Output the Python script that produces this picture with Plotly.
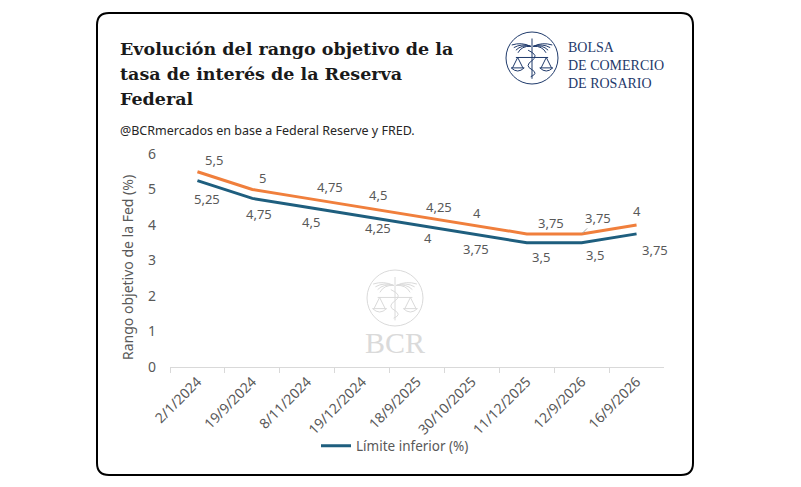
import plotly.graph_objects as go

# Chart data
fechas = ["2/1/2024", "19/9/2024", "8/11/2024", "19/12/2024", "18/9/2025",
          "30/10/2025", "11/12/2025", "12/9/2026", "16/9/2026"]
limite_superior = [5.5, 5, 4.75, 4.5, 4.25, 4, 3.75, 3.75, 4]
limite_inferior = [5.25, 4.75, 4.5, 4.25, 4, 3.75, 3.5, 3.5, 3.75]

W, H = 801, 487
OFF = 8  # page body margin of the browser
NARANJA = "#F07F3C"
AZUL = "#1E5E7E"
GRIS = "#595959"
AZUL_LOGO = "#1F3A6B"
MARCA = "#DADADA"


# Helpers: screen pixel -> paper coordinate (margins are zero)
def px(x):
    return (x - OFF) / W


def py(y):
    return 1 - (y - OFF) / H


def fmt(v):
    return f"{v:g}".replace(".", ",")


fig = go.Figure()

fig.add_trace(go.Scatter(
    x=fechas, y=limite_superior, mode="lines",
    line=dict(color=NARANJA, width=3),
    name="Límite superior (%)", showlegend=False,
))
fig.add_trace(go.Scatter(
    x=fechas, y=limite_inferior, mode="lines",
    line=dict(color=AZUL, width=3),
    name="Límite inferior (%)",
))

# Data labels (pixel offsets of each label from its point)
sup_dx = [17, 10, 23, 16, 22, 5, 24, 16, 0]
sup_dy = [12, 12, 11, 12, 9, 12, 11, 16, 14]
inf_dx = [10, 7, 4, 16, 11, 4, 14, 13, 18]
inf_dy = [18, 16, 15, 12, 13, 15, 14, 12, 16]
fuente_dato = dict(family="Noto Sans", size=13, color=GRIS)

for i, f in enumerate(fechas):
    if i == 7:
        fig.add_annotation(
            x=f, y=limite_superior[i], text=fmt(limite_superior[i]),
            showarrow=True, arrowhead=0, arrowwidth=1, arrowcolor="#A6A6A6",
            ax=sup_dx[i], ay=-sup_dy[i], standoff=1, font=fuente_dato,
        )
    else:
        fig.add_annotation(
            x=f, y=limite_superior[i], text=fmt(limite_superior[i]),
            showarrow=False, xshift=sup_dx[i], yshift=sup_dy[i], font=fuente_dato,
        )
    fig.add_annotation(
        x=f, y=limite_inferior[i], text=fmt(limite_inferior[i]),
        showarrow=False, xshift=inf_dx[i], yshift=-inf_dy[i], font=fuente_dato,
    )


# Simple emblem (circle, caduceus with wings, scales)
def emblema(cx, cy, r, color, layer):
    base = dict(xref="paper", yref="paper", layer=layer,
                line=dict(color=color, width=1))
    shapes = [
        dict(type="circle", x0=px(cx - r), x1=px(cx + r),
             y0=py(cy + r), y1=py(cy - r), **base),
        dict(type="line", x0=px(cx), x1=px(cx),
             y0=py(cy - 0.75 * r), y1=py(cy + 0.8 * r), **base),
        dict(type="line", x0=px(cx - 0.62 * r), x1=px(cx + 0.62 * r),
             y0=py(cy - 0.02 * r), y1=py(cy - 0.02 * r), **base),
    ]
    # wings: feathers spreading sideways from the top of the staff
    for k in range(4):
        for s in (-1, 1):
            shapes.append(dict(
                type="path",
                path=(f"M {px(cx + s * 0.05 * r)},{py(cy - 0.45 * r)} "
                      f"Q {px(cx + s * 0.4 * r)},{py(cy - (0.62 - 0.05 * k) * r)} "
                      f"{px(cx + s * (0.78 - 0.08 * k) * r)},{py(cy - (0.5 - 0.1 * k) * r)}"),
                **base))
    # scale pans
    for s in (-1, 1):
        x_end = cx + s * 0.55 * r
        shapes.append(dict(type="line", x0=px(x_end), x1=px(x_end - 0.2 * r),
                           y0=py(cy - 0.02 * r), y1=py(cy + 0.38 * r), **base))
        shapes.append(dict(type="line", x0=px(x_end), x1=px(x_end + 0.2 * r),
                           y0=py(cy - 0.02 * r), y1=py(cy + 0.38 * r), **base))
        shapes.append(dict(
            type="path",
            path=(f"M {px(x_end - 0.25 * r)},{py(cy + 0.38 * r)} "
                  f"Q {px(x_end)},{py(cy + 0.62 * r)} {px(x_end + 0.25 * r)},{py(cy + 0.38 * r)} Z"),
            **base))
    # snake
    shapes.append(dict(
        type="path",
        path=(f"M {px(cx - 0.15 * r)},{py(cy - 0.3 * r)} "
              f"Q {px(cx + 0.3 * r)},{py(cy - 0.1 * r)} {px(cx)},{py(cy + 0.1 * r)} "
              f"Q {px(cx - 0.3 * r)},{py(cy + 0.3 * r)} {px(cx)},{py(cy + 0.45 * r)} "
              f"Q {px(cx + 0.25 * r)},{py(cy + 0.6 * r)} {px(cx - 0.05 * r)},{py(cy + 0.72 * r)}"),
        **base))
    return shapes


shapes = []
# card border with rounded corners
x0, x1, y0, y1, rr = 97, 693, 13, 475, 12
shapes.append(dict(
    type="path", xref="paper", yref="paper", layer="below",
    path=(f"M {px(x0 + rr)},{py(y0)} L {px(x1 - rr)},{py(y0)} "
          f"Q {px(x1)},{py(y0)} {px(x1)},{py(y0 + rr)} "
          f"L {px(x1)},{py(y1 - rr)} Q {px(x1)},{py(y1)} {px(x1 - rr)},{py(y1)} "
          f"L {px(x0 + rr)},{py(y1)} Q {px(x0)},{py(y1)} {px(x0)},{py(y1 - rr)} "
          f"L {px(x0)},{py(y0 + rr)} Q {px(x0)},{py(y0)} {px(x0 + rr)},{py(y0)} Z"),
    line=dict(color="black", width=2), fillcolor="white",
))
shapes += emblema(395, 298, 28, MARCA, "below")
shapes += emblema(532, 58, 26, AZUL_LOGO, "above")

# Title (one annotation per line to keep the tight leading)
titulo = ["Evolución del rango objetivo de la", "tasa de interés de la Reserva", "Federal"]
for j, linea in enumerate(titulo):
    fig.add_annotation(
        x=px(118), y=py(49 + 25 * j), xref="paper", yref="paper",
        xanchor="left", yanchor="middle", showarrow=False,
        text=f"<b>{linea}</b>",
        font=dict(family="DejaVu Serif", size=17.5, color="#1A1A1A"),
    )
fig.add_annotation(
    x=px(118), y=py(130), xref="paper", yref="paper", xanchor="left", yanchor="middle",
    showarrow=False, text="@BCRmercados en base a Federal Reserve y FRED.",
    font=dict(family="Noto Sans", size=12.5, color="#262626"),
)
fig.add_annotation(
    x=px(566), y=py(65), xref="paper", yref="paper",
    xanchor="left", yanchor="middle", align="left", showarrow=False,
    text="BOLSA<br>DE COMERCIO<br>DE ROSARIO",
    font=dict(family="Liberation Serif", size=14, color=AZUL_LOGO),
)
fig.add_annotation(
    x=px(395), y=py(342), xref="paper", yref="paper", showarrow=False,
    xanchor="center", yanchor="middle",
    text="BCR", font=dict(family="Liberation Serif", size=30, color=MARCA),
)
fig.add_annotation(
    x=px(127), y=py(268), xref="paper", yref="paper", showarrow=False,
    xanchor="center", yanchor="middle",
    text="Rango objetivo de la Fed (%)", textangle=-90,
    font=dict(family="Noto Sans", size=14, color=GRIS),
)

fig.update_layout(
    width=W, height=H,
    margin=dict(l=0, r=0, t=0, b=0),
    paper_bgcolor="white", plot_bgcolor="rgba(0,0,0,0)",
    shapes=shapes,
    xaxis=dict(
        domain=[px(170), px(664)],
        type="category", range=[-0.5, 8.5],
        showgrid=False, zeroline=False,
        showline=True, linecolor="#D9D9D9", linewidth=1,
        ticks="outside", tickson="boundaries", ticklen=5, tickcolor="#D9D9D9",
        tickangle=-45, automargin=False,
        tickfont=dict(family="Noto Sans", size=14, color=GRIS),
    ),
    yaxis=dict(
        domain=[py(367), py(154)],
        range=[0, 6], dtick=1,
        showgrid=False, zeroline=False, showline=False,
        ticks="", ticklabelstandoff=13, automargin=False,
        tickfont=dict(family="Noto Sans", size=14, color=GRIS),
    ),
    legend=dict(
        x=px(316), y=py(446), xanchor="left", yanchor="middle",
        orientation="h", bgcolor="rgba(0,0,0,0)", itemwidth=30,
        font=dict(family="Noto Sans", size=13.5, color=GRIS),
    ),
)

fig.write_html("out.html")
